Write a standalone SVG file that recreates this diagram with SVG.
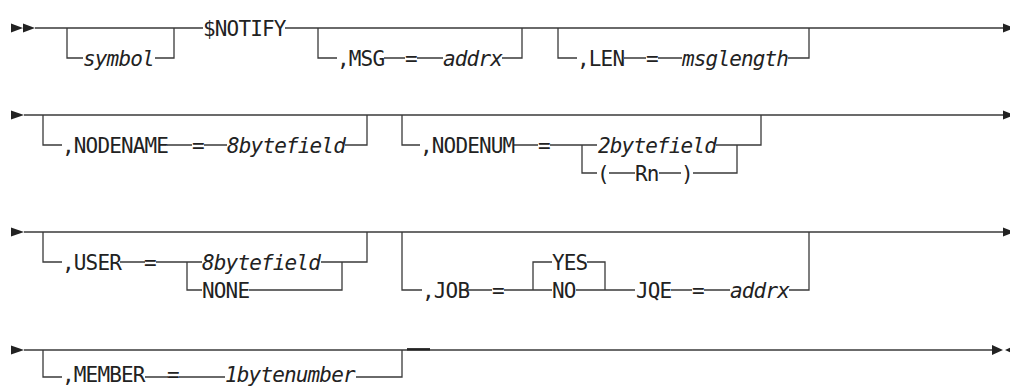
<svg xmlns="http://www.w3.org/2000/svg" width="1010" height="387" viewBox="0 0 1010 387">
<style>
.ln{fill:none;stroke:#3a3a3a;stroke-width:1.3}
.ar{fill:#222}
text{font-family:"DejaVu Sans Mono","Liberation Mono",monospace;font-size:21px;letter-spacing:-0.85px;fill:#222}
.v{font-style:italic}
</style>
<rect width="1010" height="387" fill="#fff"/>
<g id="connectors">
<!-- row 1 -->
<path class="ln" d="M35 28H203M285 28H1004"/>
<path class="ln" d="M67 28V58H83M155 58H174V28"/>
<path class="ln" d="M318 28V58H337M384 58H405M417 58H443M502 58H522V28"/>
<path class="ln" d="M558 28V58H577M624 58H646M658 58H682M788 58H809V28"/>
<!-- row 2 -->
<path class="ln" d="M24 115H1004"/>
<path class="ln" d="M43 115V145H62M167 145H192M204 145H227M345 145H367V115"/>
<path class="ln" d="M402 115V145H420M514 145H538M550 145H597M716 145H761V115M737 145V173H693M681 173H659M635 173H609M597 173H582V145"/>
<!-- row 3 -->
<path class="ln" d="M24 232H1004"/>
<path class="ln" d="M43 232V262H62M120 262H145M156 262H202M321 262H367V232M342 262V290H249M202 290H187V262"/>
<path class="ln" d="M402 232V290H422M467 290H492M504 290H552M576 290H635M671 290H692M704 290H730M789 290H809V232M533 290V262H552M587 262H605V290"/>
<!-- row 4 -->
<path class="ln" d="M24 350H993"/>
<path class="ln" d="M43 350V377H62M145 377H168M179 377H225M356 377H402V350"/>
<path d="M407 349.3H430" fill="none" stroke="#222" stroke-width="2.4"/>
<!-- arrowheads -->
<path class="ar" d="M11 23.5L23 28L11 32.5ZM23 23.5L35 28L23 32.5Z"/>
<path class="ar" d="M1003 23.5L1014 28L1003 32.5Z"/>
<path class="ar" d="M11 110.5L24 115L11 119.5Z"/>
<path class="ar" d="M1003 110.5L1014 115L1003 119.5Z"/>
<path class="ar" d="M11 227.5L24 232L11 236.5Z"/>
<path class="ar" d="M1003 227.5L1014 232L1003 236.5Z"/>
<path class="ar" d="M11 345.5L24 350L11 354.5Z"/>
<path class="ar" d="M992 345L1003 350L992 355ZM1015 345.5L1005 350L1015 354.5Z"/>
</g>
<g id="n-symbol"><text class="v" x="83" y="65.5">symbol</text></g>
<g id="n-notify"><text x="203" y="35.5">$NOTIFY</text></g>
<g id="n-msg"><text x="337" y="65.5">,MSG</text><text x="405" y="65.5">=</text><text class="v" x="443" y="65.5">addrx</text></g>
<g id="n-len"><text x="577" y="65.5">,LEN</text><text x="646" y="65.5">=</text><text class="v" x="682" y="65.5">msglength</text></g>
<g id="n-nodename"><text x="62" y="152.5">,NODENAME</text><text x="192" y="152.5">=</text><text class="v" x="227" y="152.5">8bytefield</text></g>
<g id="n-nodenum"><text x="420" y="152.5">,NODENUM</text><text x="538" y="152.5">=</text><text class="v" x="598" y="152.5">2bytefield</text><text x="597" y="180.5">(</text><text x="635" y="180.5">Rn</text><text x="681" y="180.5">)</text></g>
<g id="n-user"><text x="62" y="269.5">,USER</text><text x="144" y="269.5">=</text><text class="v" x="202" y="269.5">8bytefield</text><text x="202" y="297.5">NONE</text></g>
<g id="n-job"><text x="422" y="297.5">,JOB</text><text x="492" y="297.5">=</text><text x="552" y="269.5">YES</text><text x="552" y="297.5">NO</text><text x="636" y="297.5">JQE</text><text x="692" y="297.5">=</text><text class="v" x="730" y="297.5">addrx</text></g>
<g id="n-member"><text x="62" y="382">,MEMBER</text><text x="167" y="382">=</text><text class="v" x="225" y="382">1bytenumber</text></g>
</svg>
